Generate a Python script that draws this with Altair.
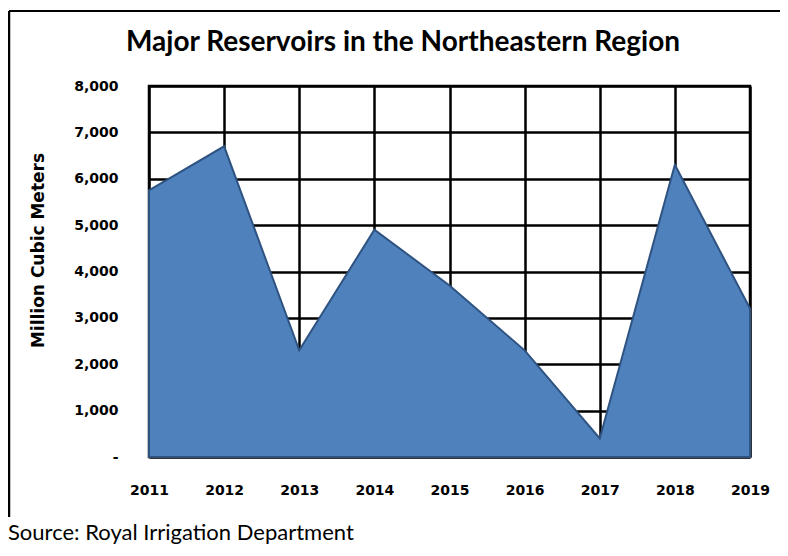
import altair as alt
import pandas as pd

YEARS = ["2011", "2012", "2013", "2014", "2015", "2016", "2017", "2018", "2019"]
VOLUMES = [5750, 6700, 2300, 4900, 3700, 2300, 400, 6300, 3200]
Y_TICKS = [0, 1000, 2000, 3000, 4000, 5000, 6000, 7000, 8000]
TITLE = ["Major Reservoirs in the Northeastern Region"]
Y_TITLE = "Million Cubic Meters"
SOURCE = ["Source: Royal Irrigation Department"]

df = pd.DataFrame({"year": YEARS, "volume": VOLUMES})

W, H = 601, 371
PAD = {"left": 141, "top": 78, "right": 30, "bottom": 91}

area = alt.Chart(df).mark_area(
    color="#4F81BD", opacity=1, stroke="#2F5381", strokeWidth=2
).encode(
    x=alt.X(
        "year:O",
        scale=alt.Scale(type="point", padding=0),
        axis=alt.Axis(
            title=None, labelAngle=0, grid=True, gridColor="black", gridWidth=2.5,
            gridOpacity=1, ticks=False, domain=False, labelFont="DejaVu Sans",
            labelFontWeight="bold", labelFontSize=14, labelColor="black",
            labelPadding=26,
        ),
    ),
    y=alt.Y(
        "volume:Q",
        scale=alt.Scale(domain=[0, 8000], nice=False),
        axis=alt.Axis(
            values=Y_TICKS,
            labelExpr="datum.value == 0 ? '-\u00a0\u00a0' : format(datum.value, ',')",
            grid=True, gridColor="black", gridWidth=2.5, gridOpacity=1,
            ticks=False, domain=False, labelFont="DejaVu Sans",
            labelFontWeight="bold", labelFontSize=14, labelColor="black",
            labelPadding=31,
            title=Y_TITLE, titleX=-111, titleY=164, titleAngle=-90,
            titleFont="DejaVu Sans", titleFontSize=17, titleFontWeight="bold",
            titleColor="black", titleAlign="center", titleBaseline="middle",
        ),
    ),
)

one = pd.DataFrame({"k": [0]})
border_top = alt.Chart(one).mark_rule(color="black", strokeWidth=2).encode(
    x=alt.value(-140), x2=alt.value(631), y=alt.value(-75)
)
border_left = alt.Chart(one).mark_rule(color="black", strokeWidth=2.5).encode(
    x=alt.value(-140), y=alt.value(-75), y2=alt.value(431)
)
title = alt.Chart(pd.DataFrame({"t": TITLE})).mark_text(
    align="center", baseline="alphabetic", font="Lato", fontSize=28,
    fontWeight="bold", color="black"
).encode(x=alt.value(254), y=alt.value(-35), text="t:N")
source = alt.Chart(pd.DataFrame({"t": SOURCE})).mark_text(
    align="left", baseline="alphabetic", font="Lato", fontSize=22, color="black"
).encode(x=alt.value(-141), y=alt.value(454), text="t:N")

chart = alt.layer(area, border_top, border_left, title, source).properties(
    width=W, height=H, padding=PAD, autosize="none",
).configure_view(stroke="black", strokeWidth=2.5)

chart.save("out.html", embed_options={"renderer": "svg", "actions": False})
